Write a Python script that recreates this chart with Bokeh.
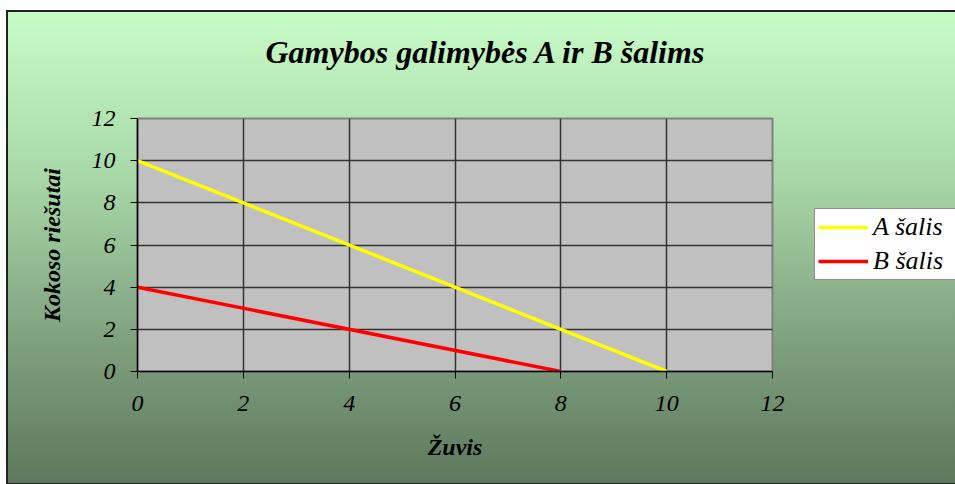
from bokeh.plotting import figure
from bokeh.models import Range1d, FixedTicker, Legend, LegendItem, Title
from bokeh.embed import file_html
from bokeh.resources import INLINE

# data
fish = [0, 10]
coconut_a = [10, 0]
fish_b = [0, 8]
coconut_b = [4, 0]
ticks = [0, 2, 4, 6, 8, 10, 12]
series_names = ["A šalis", "B šalis"]
title_text = "Gamybos galimybės A ir B šalims"
x_label = "Žuvis"
y_label = "Kokoso riešutai"

FONT = "Liberation Serif"

p = figure(frame_width=635, frame_height=253, output_backend="svg", toolbar_location=None,
           x_range=Range1d(0, 12), y_range=Range1d(0, 12),
           min_border_left=130, min_border_right=183, min_border_top=107,
           min_border_bottom=113)
p.styles = {"margin-top": "11px", "margin-left": "7px",
            "background-image": "linear-gradient(to bottom, #C8FCC8 0%, #A8D8A8 35%, #7FA07F 70%, #5E785E 100%)",
            "outline": "2px solid #222222", "outline-offset": "-1px"}
p.border_fill_color = None
p.background_fill_color = "#C0C0C0"
p.outline_line_color = "#808080"
p.outline_line_width = 2

p.title = Title(text=title_text, text_font=FONT, text_font_size="32px",
                text_font_style="bold italic", text_color="black",
                align="left", offset=128, vertical_align="bottom")
p.title.standoff = 0
spacer = Title(text=" ", text_font_size="1px", standoff=46)
p.add_layout(spacer, "above")

for ax in (p.xaxis[0], p.yaxis[0]):
    ax.ticker = FixedTicker(ticks=ticks)
    ax.minor_tick_line_color = None
    ax.major_tick_in = 0
    ax.major_tick_out = 7
    ax.axis_line_color = "black"
    ax.axis_line_width = 1.5
    ax.major_tick_line_color = "black"
    ax.major_label_text_font = FONT
    ax.major_label_text_font_style = "italic"
    ax.major_label_text_font_size = "24px"
    ax.major_label_text_color = "black"
    ax.axis_label_text_font = FONT
    ax.axis_label_text_font_style = "bold italic"
    ax.axis_label_text_font_size = "24px"
    ax.axis_label_text_color = "black"

p.xaxis.axis_label = x_label
p.yaxis.axis_label = y_label
p.xaxis.major_label_standoff = 17
p.yaxis.major_label_standoff = 15
p.xaxis.axis_label_standoff = 20
p.yaxis.axis_label_standoff = 24

p.xgrid.ticker = FixedTicker(ticks=ticks)
p.ygrid.ticker = FixedTicker(ticks=ticks)
p.grid.grid_line_color = "#333333"
p.grid.grid_line_width = 1.5
p.grid.grid_line_alpha = 1

ra = p.line(fish, coconut_a, line_color="#FFFF00", line_width=3.5)
rb = p.line(fish_b, coconut_b, line_color="#FF0000", line_width=3.5)

legend = Legend(items=[LegendItem(label=series_names[0], renderers=[ra]),
                       LegendItem(label=series_names[1], renderers=[rb])],
                location=(42, 91), orientation="vertical",
                label_text_font=FONT, label_text_font_style="italic",
                label_text_font_size="26px", label_text_color="black",
                glyph_width=50, glyph_height=26, label_height=26, label_width=84,
                spacing=4, padding=3, margin=0, label_standoff=5,
                background_fill_color="white", background_fill_alpha=1,
                border_line_color="#222222", border_line_width=1.5)
p.add_layout(legend, "right")

with open("out.html", "w") as f:
    f.write(file_html(p, INLINE))
